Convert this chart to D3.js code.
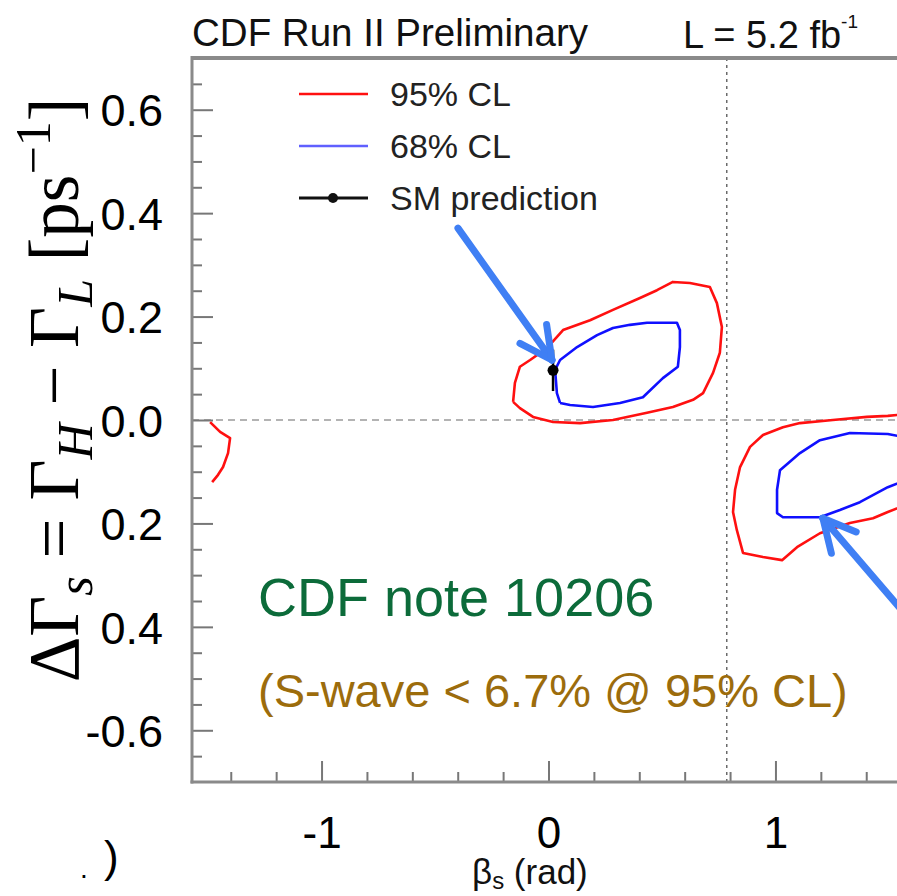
<!DOCTYPE html>
<html>
<head>
<meta charset="utf-8">
<script src="https://cdn.jsdelivr.net/npm/d3@7"></script>
<style>
  html, body { margin: 0; padding: 0; background: #fff; }
  svg { display: block; }
</style>
</head>
<body>
<svg id="chart" width="897" height="896"></svg>
<script>
// ---- axis domains and ticks ----
const betaDomain = [-Math.PI / 2, Math.PI / 2];
const dGammaDomain = [-0.7, 0.7];
const xMajorTicks = [-1, 0, 1];
const xMajorLabels = ["-1", "0", "1"];
const xMinorTicks = [-1.4, -1.2, -0.8, -0.6, -0.4, -0.2, 0.2, 0.4, 0.6, 0.8, 1.2, 1.4];
const yMajorTicks = [-0.6, -0.4, -0.2, 0.0, 0.2, 0.4, 0.6];
const yMajorLabels = ["-0.6", "0.4", "0.2", "0.0", "0.2", "0.4", "0.6"];
const yMinorTicks = [-0.65, -0.55, -0.5, -0.45, -0.35, -0.3, -0.25, -0.15, -0.1, -0.05,
                     0.05, 0.1, 0.15, 0.25, 0.3, 0.35, 0.45, 0.5, 0.55, 0.65];

// ---- confidence-level contours: [beta_s, DeltaGamma_s] ----
const cl95Central = [
  [-0.156, 0.035], [-0.148, 0.072], [-0.126, 0.103], [-0.081, 0.116], [-0.007, 0.139],
  [0.064, 0.174], [0.183, 0.193], [0.284, 0.213], [0.403, 0.236], [0.478, 0.251],
  [0.548, 0.267], [0.623, 0.265], [0.711, 0.257], [0.742, 0.226], [0.764, 0.180],
  [0.755, 0.130], [0.725, 0.091], [0.681, 0.052], [0.637, 0.039], [0.548, 0.025],
  [0.434, 0.014], [0.284, 0.000], [0.139, -0.006], [0.020, -0.004], [-0.068, 0.006],
  [-0.126, 0.023], [-0.156, 0.035]
];
const cl68Central = [
  [0.051, 0.033], [0.037, 0.052], [0.029, 0.097], [0.051, 0.116], [0.126, 0.141],
  [0.214, 0.164], [0.284, 0.178], [0.359, 0.184], [0.434, 0.188], [0.566, 0.188],
  [0.579, 0.174], [0.579, 0.141], [0.570, 0.103], [0.504, 0.081], [0.416, 0.044],
  [0.315, 0.033], [0.196, 0.025], [0.095, 0.029], [0.051, 0.033]
];
const cl95Right = [
  [1.60, 0.012], [1.495, 0.008], [1.403, 0.006], [1.253, 0.000], [1.108, -0.006],
  [1.033, -0.014], [0.945, -0.029], [0.888, -0.052], [0.844, -0.091], [0.822, -0.135],
  [0.813, -0.178], [0.830, -0.213], [0.857, -0.257], [0.945, -0.265], [1.029, -0.271],
  [1.095, -0.246], [1.196, -0.219], [1.328, -0.199], [1.430, -0.190], [1.495, -0.178],
  [1.60, -0.160]
];
const cl68Right = [
  [1.60, -0.036], [1.495, -0.027], [1.328, -0.025], [1.196, -0.039], [1.108, -0.064],
  [1.020, -0.097], [1.007, -0.135], [1.007, -0.180], [1.033, -0.188], [1.196, -0.188],
  [1.284, -0.174], [1.372, -0.159], [1.495, -0.130], [1.60, -0.112]
];
const cl95Left = [
  [-1.491, -0.004], [-1.447, -0.023], [-1.403, -0.035], [-1.412, -0.064],
  [-1.434, -0.091], [-1.456, -0.106], [-1.482, -0.120]
];

// ---- Standard Model prediction ----
const smBeta = 0.02;
const smDGamma = 0.096;
const smError = 0.04;

// ---- reference lines ----
const zeroDGamma = 0;
const betaQuarterPi = Math.PI / 4;

// ---- legend ----
const legendLabels = ["95% CL", "68% CL", "SM prediction"];
const legendKinds = ["cl95", "cl68", "sm"];

// ---- annotation arrows: from tail to tip, in data coordinates ----
const arrowTails = [[-0.399, 0.371], [1.60, -0.39]];
const arrowTips = [[0.015, 0.116], [1.209, -0.19]];

// ---- colours ----
const red = "#ff1010";
const blue = "#1010ff";
const arrowBlue = "#3f7ff4";
const frameGray = "#8a8a8a";

// ---- layout ----
const plotLeft = 192, plotRight = 905, plotTop = 58, plotBottom = 782;

const svg = d3.select("#chart");
const x = d3.scaleLinear().domain(betaDomain).range([plotLeft, plotRight]);
const y = d3.scaleLinear().domain(dGammaDomain).range([plotBottom, plotTop]);

const sans = "'Liberation Sans', Arial, Helvetica, sans-serif";
const serif = "'Liberation Serif', 'DejaVu Serif', serif";

svg.append("defs").append("clipPath").attr("id", "plotClip")
  .append("rect")
  .attr("x", plotLeft).attr("y", plotTop)
  .attr("width", plotRight - plotLeft).attr("height", plotBottom - plotTop);

// reference lines
svg.append("line")
  .attr("x1", x(betaDomain[0])).attr("x2", x(betaDomain[1]))
  .attr("y1", y(zeroDGamma)).attr("y2", y(zeroDGamma))
  .attr("stroke", "#9a9a9a").attr("stroke-width", 1.5)
  .attr("stroke-dasharray", "7,5");
svg.append("line")
  .attr("x1", x(betaQuarterPi)).attr("x2", x(betaQuarterPi))
  .attr("y1", y(dGammaDomain[1])).attr("y2", y(dGammaDomain[0]))
  .attr("stroke", "#6a6a6a").attr("stroke-width", 1.5)
  .attr("stroke-dasharray", "3,4");

// axes with inward ticks
function styleAxis(g) {
  g.select(".domain").remove();
  g.selectAll(".tick line").attr("stroke", "#777").attr("stroke-width", 2);
}
svg.append("g").attr("transform", `translate(${plotLeft},0)`)
  .call(d3.axisLeft(y).tickValues(yMinorTicks).tickSize(-10).tickFormat(""))
  .call(styleAxis);
const yMaj = svg.append("g").attr("transform", `translate(${plotLeft},0)`)
  .call(d3.axisLeft(y).tickValues(yMajorTicks).tickSize(-21).tickPadding(29)
        .tickFormat((d, i) => yMajorLabels[i]))
  .call(styleAxis);
yMaj.selectAll(".tick text")
  .attr("fill", "#000").attr("font-family", sans).attr("font-size", 45).attr("dy", "0.36em");

svg.append("g").attr("transform", `translate(0,${plotBottom})`)
  .call(d3.axisBottom(x).tickValues(xMinorTicks).tickSize(-10).tickFormat(""))
  .call(styleAxis);
const xMaj = svg.append("g").attr("transform", `translate(0,${plotBottom})`)
  .call(d3.axisBottom(x).tickValues(xMajorTicks).tickSize(-21).tickPadding(50)
        .tickFormat((d, i) => xMajorLabels[i]))
  .call(styleAxis);
xMaj.selectAll(".tick text")
  .attr("fill", "#000").attr("font-family", sans).attr("font-size", 44).attr("dy", "0.36em");

// frame lines
svg.append("line").attr("x1", plotLeft).attr("x2", 897).attr("y1", plotTop).attr("y2", plotTop)
  .attr("stroke", frameGray).attr("stroke-width", 4);
svg.append("line").attr("x1", plotLeft).attr("x2", plotLeft).attr("y1", plotTop - 2).attr("y2", plotBottom + 1.5)
  .attr("stroke", frameGray).attr("stroke-width", 3);
svg.append("line").attr("x1", plotLeft - 1.5).attr("x2", 897).attr("y1", plotBottom).attr("y2", plotBottom)
  .attr("stroke", frameGray).attr("stroke-width", 3);

// contours
const line = d3.line().x(d => x(d[0])).y(d => y(d[1]));
const contours = svg.append("g").attr("clip-path", "url(#plotClip)")
  .attr("fill", "none").attr("stroke-width", 2.6).attr("stroke-linejoin", "round");
[[cl95Central, red], [cl95Right, red], [cl95Left, red],
 [cl68Central, blue], [cl68Right, blue]].forEach(([pts, col]) => {
  contours.append("path").attr("d", line(pts)).attr("stroke", col);
});

// SM point with error bar
svg.append("line")
  .attr("x1", x(smBeta)).attr("x2", x(smBeta))
  .attr("y1", y(smDGamma + smError)).attr("y2", y(smDGamma - smError))
  .attr("stroke", "#000").attr("stroke-width", 2.5);
svg.append("circle").attr("cx", x(smBeta)).attr("cy", y(smDGamma)).attr("r", 5.5).attr("fill", "#000");

// legend
const legend = svg.append("g");
legendLabels.forEach((lab, i) => {
  const ly = 94 + i * 52;
  const kind = legendKinds[i];
  const col = kind === "cl95" ? red : kind === "cl68" ? "#6060ff" : "#111";
  legend.append("line").attr("x1", 299).attr("x2", 368).attr("y1", ly).attr("y2", ly)
    .attr("stroke", col).attr("stroke-width", kind === "sm" ? 3 : 2.6);
  if (kind === "sm") legend.append("circle").attr("cx", 333).attr("cy", ly).attr("r", 5).attr("fill", "#111");
  legend.append("text").attr("x", 390).attr("y", ly + 12)
    .attr("font-family", sans).attr("font-size", 34).attr("fill", "#222").text(lab);
});

// header texts
svg.append("text").attr("x", 192).attr("y", 46)
  .attr("font-family", sans).attr("font-size", 38).attr("fill", "#111")
  .attr("textLength", 396).attr("lengthAdjust", "spacingAndGlyphs")
  .text("CDF Run II Preliminary");
const lumi = svg.append("text").attr("x", 683).attr("y", 48)
  .attr("font-family", sans).attr("font-size", 38).attr("fill", "#111");
lumi.append("tspan").text("L = 5.2 fb");
lumi.append("tspan").attr("font-size", 19).attr("dy", -20).text("-1");

// axis titles
const yTitle = svg.append("text")
  .attr("transform", "translate(78,390) rotate(-90)")
  .attr("text-anchor", "middle")
  .attr("font-family", serif).attr("font-size", 71).attr("fill", "#000");
yTitle.append("tspan").text("ΔΓ");
yTitle.append("tspan").attr("font-size", 50).attr("font-style", "italic").attr("dy", 14).text("s");
yTitle.append("tspan").attr("dy", -14).text(" = Γ");
yTitle.append("tspan").attr("font-size", 50).attr("font-style", "italic").attr("dy", 14).text("H");
yTitle.append("tspan").attr("dy", -14).text(" − Γ");
yTitle.append("tspan").attr("font-size", 50).attr("font-style", "italic").attr("dy", 14).text("L");
yTitle.append("tspan").attr("dy", -14).text(" [ps");
yTitle.append("tspan").attr("font-size", 50).attr("dy", -28).text("−1");
yTitle.append("tspan").attr("dy", 28).text("]");

const xTitle = svg.append("text").attr("x", 472).attr("y", 884)
  .attr("font-family", sans).attr("font-size", 35).attr("fill", "#111");
xTitle.append("tspan").text("β");
xTitle.append("tspan").attr("font-size", 24).attr("dy", 5).text("s");
xTitle.append("tspan").attr("dy", -5).text(" (rad)");

// stray glyphs at the lower left edge
svg.append("text").attr("x", 80).attr("y", 878).attr("font-family", sans).attr("font-size", 28).text(".");
svg.append("text").attr("x", 104).attr("y", 872).attr("font-family", sans).attr("font-size", 44).text(")");

// annotation notes
svg.append("text").attr("x", 258).attr("y", 616)
  .attr("font-family", sans).attr("font-size", 54).attr("fill", "#0c6b3a")
  .text("CDF note 10206");
svg.append("text").attr("x", 258).attr("y", 707)
  .attr("font-family", sans).attr("font-size", 47).attr("fill", "#9c6c0c")
  .text("(S-wave < 6.7% @ 95% CL)");

// annotation arrows
const arrows = svg.append("g").attr("stroke", arrowBlue).attr("stroke-width", 7)
  .attr("stroke-linecap", "round").attr("fill", "none");
arrowTails.forEach((tail, i) => {
  const tip = arrowTips[i];
  const x0 = x(tail[0]), y0 = y(tail[1]), x1 = x(tip[0]), y1 = y(tip[1]);
  const back = Math.atan2(y0 - y1, x0 - x1);
  const len = 36, spread = 27 * Math.PI / 180;
  arrows.append("line").attr("x1", x0).attr("y1", y0).attr("x2", x1).attr("y2", y1);
  [-spread, spread].forEach(a => {
    arrows.append("line").attr("x1", x1).attr("y1", y1)
      .attr("x2", x1 + len * Math.cos(back + a)).attr("y2", y1 + len * Math.sin(back + a));
  });
});
</script>
</body>
</html>
